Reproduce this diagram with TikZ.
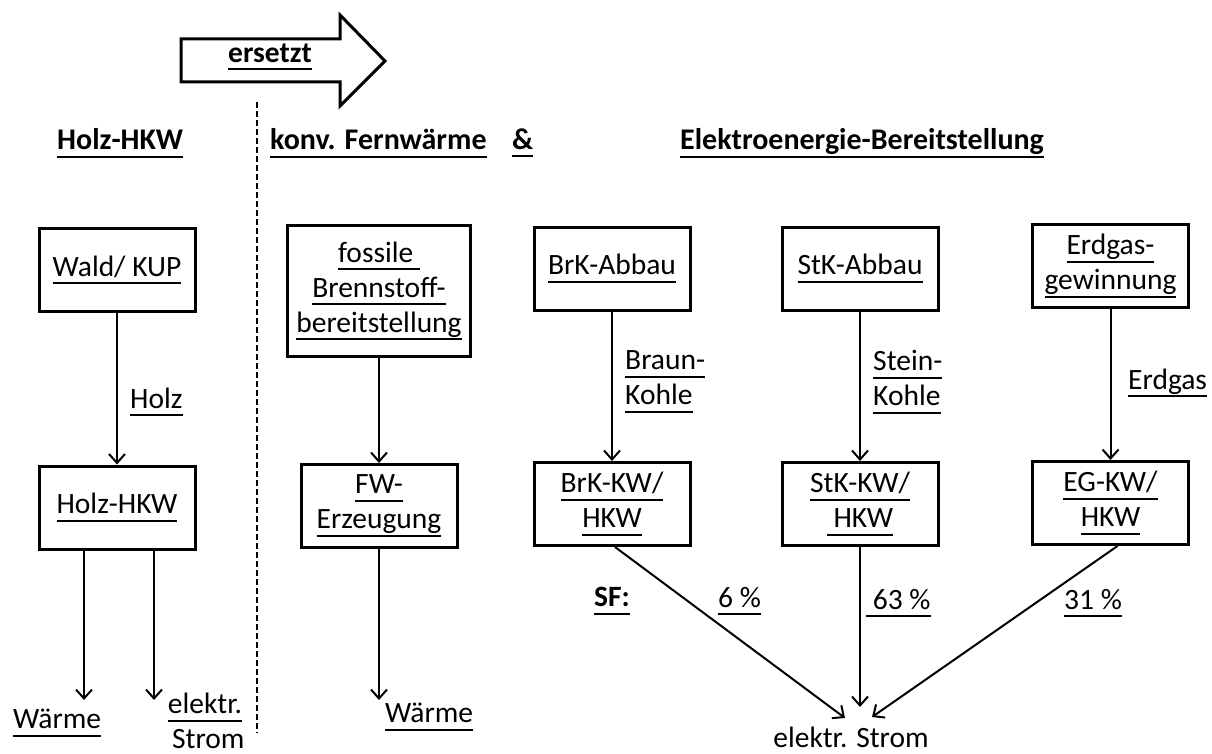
\documentclass[tikz,border=0pt]{standalone}
\usepackage{fontspec}
\setmainfont{Carlito}
\usetikzlibrary{arrows.meta}
\newcommand\uln[1]{\leavevmode\setbox0=\hbox{#1}\rlap{\rule[-8pt]{\wd0}{2pt}}\box0}
\begin{document}
\begin{tikzpicture}[x=1pt,y=-1pt,
  txt/.style={font=\fontsize{29.5}{35}\selectfont, inner sep=0pt, align=center},
  lbl/.style={txt, anchor=west, align=left},
  hdr/.style={font=\bfseries\fontsize{30}{35}\selectfont, inner sep=0pt, anchor=west},
  box/.style={draw, line width=3pt, txt, minimum width=156pt, minimum height=83pt},
  arr/.style={line width=2pt, -{Straight Barb[length=9pt,width=16pt,line width=2pt]}},
  dashline/.style={line width=2pt, dash pattern=on 6pt off 3pt}
]
\useasboundingbox (0,0) rectangle (1212,754);

% block arrow "ersetzt"
\draw[line width=3pt, line join=miter, fill=white] (181,39) -- (340,39) -- (340,15) -- (385,61) -- (340,106) -- (340,82) -- (181,82) -- cycle;
\node[txt, font=\bfseries\fontsize{29.5}{35}\selectfont] (ers) at (270,57) {\uln{ersetzt}};

% dashed separator
\coordinate (d1) at (257,102);
\coordinate (d2) at (257,733);
\draw[dashline] (d1) -- (d2);

% headers
\node[hdr] (h1) at (57,143) {\uln{Holz-HKW}};
\node[hdr] (h2) at (270,143) {\uln{konv. Fernwärme}};
\node[hdr] (h3) at (512,143) {\uln{\&}};
\node[hdr] (h4) at (680,143) {\uln{Elektroenergie-Bereitstellung}};

% boxes
\node[box] (wald) at (117,270) {\uln{Wald/ KUP}};
\node[box] (holzhkw) at (117,507.5) {\uln{Holz-HKW}};
\node[box, minimum width=183pt, minimum height=131pt] (fossil) at (379,291) {\uln{fossile\ }\\\uln{Brennstoff-}\\\uln{bereitstellung}};
\node[box] (fw) at (379,506) {\uln{FW-}\\\uln{Erzeugung}};
\node[box] (brkab) at (612,268.5) {\uln{BrK-Abbau}};
\node[box] (brkkw) at (612,504) {\uln{BrK-KW/}\\\uln{HKW}};
\node[box] (stkab) at (860,268.5) {\uln{StK-Abbau}};
\node[box] (stkkw) at (860,504) {\uln{StK-KW/}\\\uln{\ HKW}};
\node[box] (egab) at (1110.5,266) {\uln{Erdgas-}\\\uln{gewinnung}};
\node[box] (egkw) at (1110.5,503) {\uln{EG-KW/}\\\uln{HKW}};

% vertical connectors
\draw[arr] (wald.south) -- (holzhkw.north);
\draw[arr] (fossil.south) -- (fw.north);
\draw[arr] (brkab.south) -- (brkkw.north);
\draw[arr] (stkab.south) -- (stkkw.north);
\draw[arr] (egab.south) -- (egkw.north);

% flow labels
\node[lbl] (lholz) at (130,402) {\uln{Holz}};
\node[lbl] (lbraun) at (625,382) {\uln{Braun-}\\\uln{Kohle}};
\node[lbl] (lstein) at (873,382) {\uln{Stein-}\\\uln{Kohle}};
\node[lbl] (lerd) at (1128,383) {\uln{Erdgas}};

% outputs
\coordinate (w1) at (84,700);
\coordinate (w2) at (154,700);
\coordinate (w3) at (379,700);
\draw[arr] (holzhkw.south -| w1) -- (w1);
\draw[arr] (holzhkw.south -| w2) -- (w2);
\draw[arr] (fw.south) -- (w3);
\node[lbl] (waerme1) at (13,723) {\uln{Wärme}};
\node[txt] (strom1) at (205,725) {\uln{elektr.}\\\uln{\ Strom}};
\node[lbl] (waerme2) at (385,717) {\uln{Wärme}};

% electricity mix
\node[txt] (strom) at (851,737) {elektr. Strom};
\coordinate (t1) at (845,718);
\coordinate (t2) at (860,707);
\coordinate (t3) at (872,717);
\draw[arr] ([xshift=3pt]brkkw.south) -- (t1);
\draw[arr] (stkkw.south) -- (t2);
\draw[arr] ([xshift=7pt]egkw.south) -- (t3);
\node[hdr, font=\bfseries\fontsize{29.5}{35}\selectfont] (sf) at (594,601) {\uln{SF:}};
\node[lbl] (p1) at (718,601) {\uln{6 \%}};
\node[lbl] (p2) at (866,603) {\uln{\ 63 \%}};
\node[lbl] (p3) at (1064,603) {\uln{31 \%}};
\end{tikzpicture}
\end{document}
